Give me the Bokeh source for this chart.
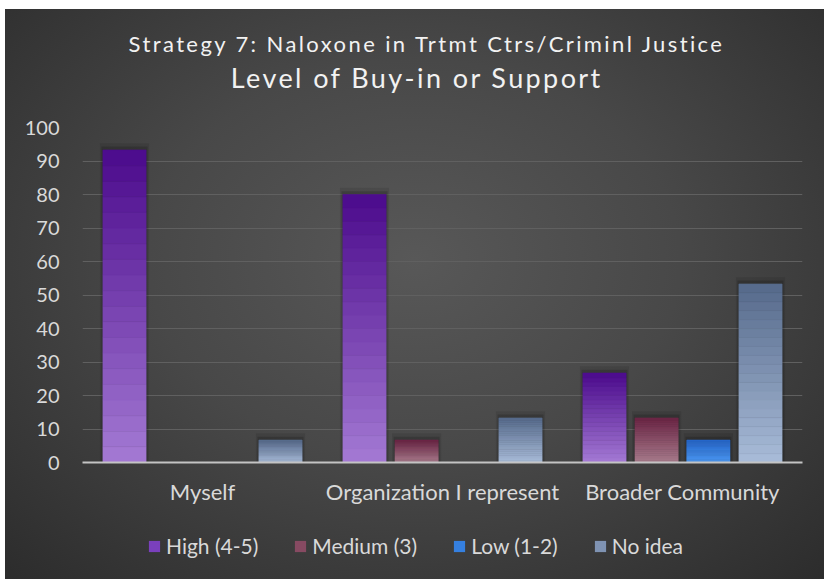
from bokeh.plotting import figure
from bokeh.models import ColumnDataSource, FactorRange, Legend, LegendItem, Label, FixedTicker
from bokeh.layouts import column
from bokeh.transform import dodge
from bokeh.embed import file_html
from bokeh.resources import INLINE

categories = ["Myself", "Organization I represent", "Broader Community"]
high = [93.3, 80.0, 26.7]
medium = [0.0, 6.7, 13.3]
low = [0.0, 0.0, 6.7]
no_idea = [6.7, 13.3, 53.3]
series_names = ["High (4-5)", "Medium (3)", "Low (1-2)", "No idea"]
y_ticks = [0, 10, 20, 30, 40, 50, 60, 70, 80, 90, 100]

title1 = "Strategy 7: Naloxone in Trtmt Ctrs/Criminl Justice"
title2 = "Level of Buy-in or Support"

FONT = "Lato"
TXT = "#d9d9d9"
TTL = "#f2f2f2"
W = 819

# style: (top colour, bottom colour, legend colour)
styles = [("#4b0a8c", "#a47ad4", "#7a40bc"),
          ("#6a2444", "#a87c8c", "#874a62"),
          ("#2666c8", "#4c98f2", "#3580e0"),
          ("#55698a", "#a9bcd9", "#7f93b3")]
offsets = [-0.325, -0.108, 0.108, 0.325]
BAR_W = 0.18
N_SEG = 20


def hex2rgb(h):
    return tuple(int(h[i:i + 2], 16) for i in (1, 3, 5))


def mix(c_bottom, c_top, t):
    a, b = hex2rgb(c_bottom), hex2rgb(c_top)
    return "#%02x%02x%02x" % tuple(round(a[k] + (b[k] - a[k]) * t) for k in range(3))


def bare(fig):
    fig.border_fill_alpha = 0
    fig.background_fill_alpha = 0
    fig.outline_line_color = None
    fig.xgrid.grid_line_color = None
    fig.ygrid.grid_line_color = None


# ---- title strip (letter-spaced like the original) ----
pt = figure(x_range=(0, 1), y_range=(0, 1), width=W, height=100,
            output_backend="svg", toolbar_location=None, title_location=None,
            x_axis_location=None, y_axis_location=None,
            min_border_left=0, min_border_right=0, min_border_top=0, min_border_bottom=0,
            styles={"letter-spacing": "2.4px"})
bare(pt)
pt.add_layout(Label(x=0.064, y=0.66, text=title1, text_align="left", text_baseline="middle",
                    text_font=FONT, text_font_size="22px", text_color=TTL))
pt.add_layout(Label(x=0.206, y=0.32, text=title2, text_align="left", text_baseline="middle",
                    text_font=FONT, text_font_size="27px", text_color=TTL))

# ---- main chart ----
p = figure(x_range=FactorRange(*categories, range_padding=0), y_range=(0, 100),
           width=W, height=406, output_backend="svg", toolbar_location=None,
           title_location=None,
           min_border_left=77, min_border_right=22, min_border_top=18, min_border_bottom=53)
bare(p)
p.ygrid.grid_line_color = "#606060"
p.ygrid.grid_line_width = 1

series = [high, medium, low, no_idea]
for vals, (ctop, cbot, _), off in zip(series, styles, offsets):
    # soft shadow around the top of each bar
    sh = dict(cat=[c for c, v in zip(categories, vals) if v > 0],
              top1=[v + 2.0 for v in vals if v > 0],
              top2=[v + 1.0 for v in vals if v > 0])
    shs = ColumnDataSource(sh)
    p.vbar(x=dodge("cat", off, range=p.x_range), top="top1", bottom=0, width=BAR_W + 0.025,
           source=shs, fill_color="black", fill_alpha=0.09, line_color=None)
    p.vbar(x=dodge("cat", off, range=p.x_range), top="top2", bottom=0, width=BAR_W + 0.012,
           source=shs, fill_color="black", fill_alpha=0.16, line_color=None)
    # vertical gradient built from segments of each bar's own value
    cat_col, bot_col, top_col, col_col = [], [], [], []
    for c, v in zip(categories, vals):
        if v <= 0:
            continue
        for i in range(N_SEG):
            cat_col.append(c)
            bot_col.append(v * i / N_SEG)
            top_col.append(v * (i + 1) / N_SEG)
            col_col.append(mix(cbot, ctop, (i + 0.5) / N_SEG))
    s = ColumnDataSource(dict(cat=cat_col, bottom=bot_col, top=top_col, color=col_col))
    p.vbar(x=dodge("cat", off, range=p.x_range), top="top", bottom="bottom", width=BAR_W,
           source=s, fill_color="color", line_color="color", line_width=0.6)

p.yaxis.ticker = FixedTicker(ticks=y_ticks)
p.yaxis.axis_line_color = None
p.yaxis.major_tick_line_color = None
p.yaxis.minor_tick_line_color = None
p.yaxis.major_tick_out = 0
p.yaxis.major_tick_in = 0
p.yaxis.major_label_standoff = 23
p.yaxis.major_label_text_font = FONT
p.yaxis.major_label_text_font_size = "20px"
p.yaxis.major_label_text_color = TXT

p.xaxis.axis_line_color = "#c4c4c4"
p.xaxis.axis_line_width = 2
p.xaxis.major_tick_line_color = None
p.xaxis.minor_tick_line_color = None
p.xaxis.major_tick_out = 0
p.xaxis.major_tick_in = 0
p.xaxis.major_label_standoff = 15
p.xaxis.major_label_text_font = FONT
p.xaxis.major_label_text_font_size = "22px"
p.xaxis.major_label_text_color = TXT

# ---- legend strip below the chart ----
pl = figure(x_range=(0, 1), y_range=(0, 1), width=W, height=64,
            output_backend="svg", toolbar_location=None, title_location=None,
            x_axis_location=None, y_axis_location=None,
            min_border_left=0, min_border_right=22, min_border_top=0, min_border_bottom=4)
bare(pl)
items = []
for name, (_, _, lc) in zip(series_names, styles):
    r = pl.vbar(x=[0.5], top=[0], bottom=[0], width=0.0001, fill_color=lc, line_color=None)
    items.append(LegendItem(label=name, renderers=[r]))
legend = Legend(items=items, orientation="horizontal", location=(65, 17),
                label_text_font=FONT, label_text_font_size="21px", label_text_color=TXT,
                glyph_width=14, glyph_height=14, label_standoff=5, spacing=35,
                background_fill_alpha=0, border_line_color=None, margin=0, padding=0)
pl.add_layout(legend)

layout = column(pt, p, pl, margin=(9, 0, 0, 5),
                styles={"background": "radial-gradient(ellipse 72% 78% at 50% 44%, #585858 0%, #484848 45%, #2c2c2c 100%)"})

open("out.html", "w").write(file_html(layout, INLINE))
